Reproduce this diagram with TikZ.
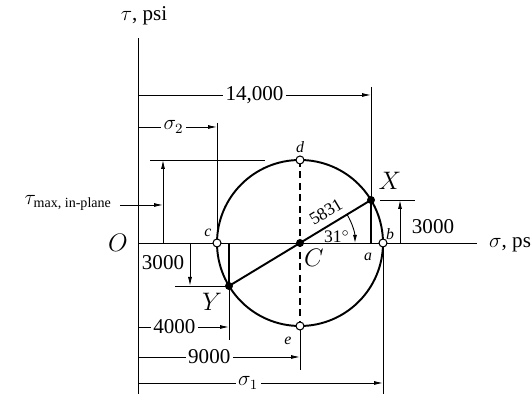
\documentclass[tikz,border=0pt]{standalone}
\usepackage{amsmath}
\usepackage{fontspec}
\setmainfont{Liberation Serif}
\usetikzlibrary{arrows.meta, calc}

\begin{document}
\begin{tikzpicture}[
    x=0.02cm, y=0.02cm, font=\large,
    mohr/.style={line width=1.1pt},
    thinline/.style={line width=0.5pt},
    dim/.style={line width=0.5pt, -{Latex[length=1.8mm, width=0.8mm]}},
    dimlabel/.style={fill=white, inner sep=1.5pt},
    opendot/.style={circle, draw, line width=0.6pt, fill=white, minimum size=1.6mm, inner sep=0pt},
    soliddot/.style={circle, fill, minimum size=1.6mm, inner sep=0pt},
    pointlabel/.style={font=\small\itshape},
    biglabel/.style={font=\Large},
    anglelabel/.style={font=\normalsize, inner sep=0.5pt},
]

\useasboundingbox (-138,-151) rectangle (393,243);

% Points
\coordinate (O) at (0,0);
\coordinate (C) at (162,0);
\coordinate (X) at (233,43);
\coordinate (Y) at (91,-43);
\coordinate (a) at (233,0);
\coordinate (Ya) at (91,0);
\coordinate (c) at (79,0);
\coordinate (b) at (245,0);
\coordinate (d) at (162,83);
\coordinate (e) at (162,-83);

% ============ Axes ============
\coordinate (taxis) at (0,205);
\coordinate (bottom) at (0,-151);
\coordinate (saxis) at (339,0);
\draw[thinline] (bottom) -- (taxis);
\draw[thinline] (O) -- (saxis);
\node (tlabel) at (6,227) {$\tau$, psi};
\node[anchor=west] (slabel) at (345,0) {$\sigma$, psi};
\node[biglabel] (olabel) at (-20,0) {$O$};

% ============ Circle ============
\draw[mohr] (C) circle (83);
\draw[mohr, dash pattern=on 1.4mm off 0.9mm] (d) -- (e);
\draw[mohr] (X) -- (Y);
\draw[mohr] (X) -- (a);
\draw[mohr] (Y) -- (Ya);

% Angle and radius
\draw[thinline, -{Latex[length=1.6mm, width=0.8mm]}] ($(C)+(31:55)$) arc[start angle=31, end angle=0, radius=55];
\node[anglelabel, rotate=31] (rlabel) at (188,31) {5831};
\node[anglelabel] (alabel) at (199,6) {31$^\circ$};

% ============ Dimensions (top) ============
% 14,000
\coordinate (d14a) at (0,148);
\coordinate (d14b) at (233,148);
\coordinate (xtop) at (233,156);
\draw[dim] (d14a) -- node[dimlabel] {14,000} (d14b);
\draw[thinline] (xtop) -- (X);

% sigma_2
\coordinate (s2a) at (0,116);
\coordinate (s2b) at (79,116);
\coordinate (ctop) at (79,120);
\draw[dim] (s2a) -- node[dimlabel, pos=0.45] {$\sigma_2$} (s2b);
\draw[thinline] (ctop) -- (c);

% tau max
\coordinate (tma) at (12,83);
\coordinate (tmb) at (127,83);
\coordinate (tmfoot) at (25,0);
\coordinate (tmtop) at (25,83);
\coordinate (tmin) at (-18,38);
\coordinate (tmat) at (25,38);
\draw[thinline] (tma) -- (tmb);
\draw[dim] (tmfoot) -- (tmtop);
\draw[dim] (tmin) -- (tmat);
\node[anchor=east] (tmlabel) at (-20,40) {$\tau_{\text{max, in-plane}}$};

% 3000 at X
\coordinate (x3a) at (262,0);
\coordinate (x3b) at (262,43);
\coordinate (x3l) at (242,43);
\coordinate (x3r) at (277,43);
\draw[dim] (x3a) -- (x3b);
\draw[thinline] (x3l) -- (x3r);
\node (x3label) at (295,16) {3000};

% ============ Dimensions (bottom) ============
% 3000 at Y
\coordinate (y3a) at (52,0);
\coordinate (y3b) at (52,-43);
\coordinate (y3l) at (37,-43);
\draw[dim] (y3a) -- (y3b);
\draw[thinline] (y3l) -- (Y);
\node (y3label) at (25,-20) {3000};

% 4000
\coordinate (d4a) at (0,-84);
\coordinate (d4b) at (91,-84);
\coordinate (ybot) at (91,-97);
\draw[dim] (d4a) -- node[dimlabel, pos=0.4] {4000} (d4b);
\draw[thinline] (Y) -- (ybot);

% 9000
\coordinate (d9a) at (0,-114);
\coordinate (d9b) at (162,-114);
\coordinate (ebot) at (162,-127);
\draw[dim] (d9a) -- node[dimlabel, pos=0.44] {9000} (d9b);
\draw[thinline] (e) -- (ebot);

% sigma_1
\coordinate (s1a) at (0,-140);
\coordinate (s1b) at (245,-140);
\coordinate (bbot) at (245,-151);
\draw[dim] (s1a) -- node[dimlabel, pos=0.45] {$\sigma_1$} (s1b);
\draw[thinline] (b) -- (bbot);

% ============ Points on the circle ============
\node[soliddot] (Cdot) at (C) {};
\node[soliddot] (Xdot) at (X) {};
\node[soliddot] (Ydot) at (Y) {};
\node[opendot] (cdot) at (c) {};
\node[opendot] (bdot) at (b) {};
\node[opendot] (ddot) at (d) {};
\node[opendot] (edot) at (e) {};

% Labels
\node[biglabel] (Clabel) at (176,-15) {$C$};
\node[biglabel] (Xlabel) at (252,62) {$X$};
\node[biglabel] (Ylabel) at (74,-59) {$Y$};
\node[pointlabel] (clabel) at (70,10) {c};
\node[pointlabel] (blabel) at (252,9) {b};
\node[pointlabel] (alabelpt) at (230,-14) {a};
\node[pointlabel] (dlabel) at (162,96) {d};
\node[pointlabel] (elabel) at (150,-98) {e};

\end{tikzpicture}
\end{document}
